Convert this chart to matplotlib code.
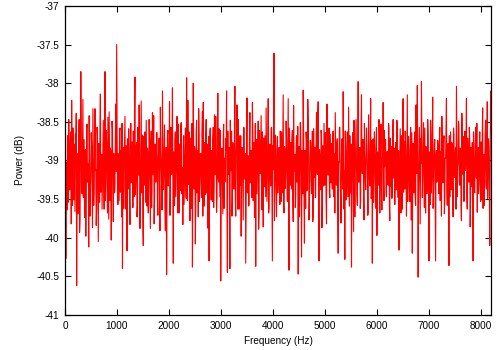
import numpy as np
import matplotlib
matplotlib.use("Agg")
import matplotlib.pyplot as plt
from matplotlib.ticker import FixedLocator, FuncFormatter

# Power spectrum (dB), in 8 bands of 1024 Hz.
# band_k: values at even bins, band_k_mid: values at the bins between them.
band_0 = [-39.43, -40.27, -39.02, -38.68, -39.54, -38.87, -39.31, -38.63, -38.22, -39.58, -39.13, -38.79, -39.66, -38.97, -40.62, -38.91,
          -39.18, -38.47, -39.77, -37.85, -39.34, -38.86, -39.48, -38.73, -39.07, -39.98, -38.59, -39.28, -39.04, -38.42, -39.72, -39.19,
          -38.82, -39.87, -38.94, -39.37, -38.33, -39.11, -39.62, -38.69, -40.05, -39.01, -38.57, -39.41, -38.92, -39.23, -38.48, -39.63,
          -37.85, -39.27, -38.78, -39.68, -39.03, -38.37, -39.52, -38.88, -39.16, -38.61, -39.79, -38.93, -39.32, -38.27, -37.5, -39.38]
band_0_mid = [-38.83, -39.17, -39.64, -39.21, -38.47, -39.38, -38.74, -39.82, -39.03, -38.58, -39.51, -39.27, -38.66, -38.39, -39.24, -39.69,
              -38.71, -39.93, -39.04, -38.62, -39.43, -38.21, -39.12, -39.74, -38.86, -39.31, -38.53, -39.06, -40.12, -38.92, -39.46, -38.64,
              -39.18, -38.33, -39.58, -38.94, -39.13, -39.84, -38.57, -39.36, -38.78, -39.54, -38.14, -39.02, -39.63, -38.73, -39.28, -38.96,
              -39.52, -38.61, -39.22, -38.44, -39.76, -39.01, -38.84, -40.03, -38.49, -39.34, -38.91, -39.42, -38.68, -39.14, -38.56, -39.57]
band_1 = [-38.91, -39.52, -38.58, -39.17, -39.73, -40.4, -38.83, -39.08, -38.43, -39.63, -38.98, -38.72, -39.37, -38.88, -39.83, -38.52,
          -39.27, -39.03, -38.62, -39.47, -37.92, -39.22, -38.77, -39.58, -39.14, -38.28, -39.88, -38.93, -39.42, -38.67, -40.1, -39.02,
          -38.63, -39.54, -39.07, -38.84, -39.68, -38.47, -39.32, -38.86, -39.61, -38.38, -39.18, -39.82, -38.79, -39.28, -38.64, -39.49,
          -38.97, -38.71, -39.91, -38.87, -39.23, -38.1, -39.38, -38.82, -39.57, -39.04, -40.48, -38.68, -39.33, -38.92, -39.71, -38.57]
band_1_mid = [-39.23, -38.63, -39.41, -38.87, -38.52, -39.11, -39.62, -38.72, -39.33, -38.81, -40.17, -39.04, -38.59, -39.48, -38.93, -39.29,
              -38.76, -39.61, -38.98, -38.34, -39.44, -38.82, -39.73, -38.57, -39.19, -38.88, -39.53, -38.23, -39.08, -39.81, -38.69, -39.32,
              -39.02, -38.48, -39.59, -38.91, -39.24, -38.74, -39.88, -38.62, -39.27, -39.01, -38.42, -39.52, -38.79, -39.13, -38.64, -39.71,
              -38.86, -39.43, -38.31, -39.03, -39.64, -38.73, -39.18, -38.54, -39.91, -38.83, -39.37, -38.61, -39.12, -38.24, -39.47, -38.97]
band_2 = [-39.18, -38.06, -40.33, -38.98, -38.73, -39.47, -38.87, -39.28, -38.53, -39.68, -39.03, -38.58, -39.43, -39.09, -38.82, -39.57,
          -38.93, -39.27, -37.93, -39.52, -38.97, -38.63, -39.78, -38.76, -39.21, -40.38, -38.0, -39.37, -38.88, -39.62, -38.48, -39.12,
          -39.73, -38.67, -39.31, -38.91, -39.48, -38.37, -38.25, -39.59, -39.02, -38.74, -39.42, -38.79, -39.88, -40.3, -38.62, -39.17,
          -38.87, -39.53, -38.57, -39.32, -38.96, -38.43, -39.67, -38.83, -39.22, -38.59, -39.47, -40.56, -38.92, -39.28, -38.72, -39.62]
band_2_mid = [-38.72, -39.34, -38.89, -39.58, -38.63, -39.19, -38.43, -39.68, -39.02, -38.79, -39.39, -38.51, -39.11, -39.83, -38.68, -39.26,
              -38.58, -39.49, -38.93, -38.22, -39.31, -39.04, -38.71, -39.62, -38.52, -39.17, -38.98, -38.82, -40.08, -38.62, -39.42, -38.87,
              -38.33, -39.53, -38.91, -39.21, -38.64, -39.72, -39.07, -38.77, -39.44, -38.47, -39.23, -39.87, -38.69, -39.12, -38.58, -39.51,
              -39.08, -38.73, -39.61, -38.41, -39.18, -38.92, -39.47, -38.13, -39.28, -39.03, -38.61, -39.37, -38.84, -39.69, -38.53, -39.14]
band_3 = [-38.97, -38.72, -38.1, -40.45, -39.18, -38.83, -40.4, -39.07, -38.62, -39.48, -38.92, -39.37, -38.04, -39.72, -38.78, -39.23,
          -38.47, -39.63, -39.01, -38.68, -39.28, -38.87, -39.77, -38.58, -39.13, -40.33, -38.81, -39.42, -38.94, -39.57, -38.38, -39.19,
          -39.03, -38.25, -39.52, -38.77, -39.32, -40.37, -38.73, -39.08, -38.49, -39.69, -38.98, -38.82, -39.41, -38.63, -39.86, -39.02,
          -38.68, -39.47, -38.91, -39.17, -38.2, -39.61, -38.79, -39.33, -38.57, -40.3, -39.12, -37.61, -39.38, -38.87, -39.73, -38.69]
band_3_mid = [-39.27, -38.86, -39.54, -38.62, -39.03, -39.41, -38.48, -39.13, -39.72, -38.77, -39.22, -38.59, -39.49, -38.92, -38.28, -39.63,
              -38.97, -38.68, -39.32, -39.98, -38.83, -39.38, -38.57, -39.24, -38.91, -39.51, -38.19, -39.04, -39.59, -38.73, -39.29, -38.87,
              -39.48, -38.63, -39.08, -39.74, -38.52, -39.02, -39.43, -38.79, -39.89, -38.61, -39.17, -38.42, -39.64, -38.98, -38.71, -39.34,
              -39.12, -38.32, -39.53, -38.84, -39.68, -38.93, -39.21, -38.58, -39.39, -38.81, -38.46, -39.78, -38.67, -39.31, -38.94, -39.42]
band_4 = [-39.28, -38.83, -39.57, -39.02, -38.63, -39.42, -38.15, -39.68, -38.88, -39.17, -38.72, -39.53, -38.2, -40.42, -38.98, -38.77,
          -39.37, -38.61, -39.79, -39.07, -38.92, -39.48, -38.68, -39.23, -40.47, -38.82, -39.27, -38.57, -40.25, -39.03, -38.09, -39.52,
          -38.87, -39.62, -38.73, -39.28, -38.47, -39.77, -39.02, -38.78, -39.43, -38.62, -39.71, -39.08, -38.83, -39.47, -38.38, -39.18,
          -38.24, -40.3, -38.93, -39.38, -38.67, -39.58, -39.03, -38.52, -39.32, -38.86, -39.82, -38.73, -39.19, -38.58, -39.48, -38.97]
band_4_mid = [-38.88, -39.27, -38.62, -39.53, -39.09, -38.71, -39.57, -38.82, -39.36, -38.49, -39.23, -38.94, -39.67, -38.58, -39.32, -38.99,
              -38.72, -39.46, -38.29, -39.14, -39.61, -38.83, -39.28, -38.56, -39.03, -39.73, -38.51, -39.19, -38.87, -39.43, -38.68, -40.07,
              -39.16, -38.63, -39.39, -38.21, -39.01, -39.54, -38.74, -39.26, -38.92, -39.79, -38.59, -39.22, -39.48, -38.78, -39.11, -38.43,
              -39.58, -38.86, -39.24, -38.61, -39.87, -38.81, -39.33, -38.97, -38.64, -39.52, -38.27, -39.08, -38.79, -39.41, -38.66, -39.29]
band_5 = [-38.78, -39.37, -38.62, -39.23, -39.68, -38.87, -39.32, -38.72, -40.2, -39.03, -38.57, -39.52, -38.93, -39.18, -38.11, -39.63,
          -40.28, -38.82, -39.27, -38.63, -39.47, -38.97, -38.68, -39.42, -40.38, -38.88, -39.22, -38.48, -39.73, -38.77, -39.08, -39.58,
          -37.98, -39.28, -38.83, -39.53, -38.15, -39.17, -38.73, -39.77, -38.92, -39.38, -38.58, -39.12, -39.67, -38.82, -39.33, -38.2,
          -39.47, -40.33, -38.72, -39.18, -38.87, -39.62, -38.57, -39.27, -39.03, -38.47, -39.68, -38.83, -39.43, -38.98, -38.25, -39.52]
band_5_mid = [-39.18, -38.69, -39.47, -38.91, -38.38, -39.31, -38.77, -39.63, -39.02, -38.57, -39.24, -39.81, -38.72, -39.37, -38.86, -39.13,
              -38.62, -39.51, -38.88, -39.22, -38.31, -39.59, -38.98, -38.79, -39.34, -38.64, -39.92, -38.91, -39.17, -38.47, -39.42, -38.83,
              -39.28, -38.93, -39.62, -38.58, -39.07, -38.73, -39.44, -38.52, -39.19, -38.99, -38.81, -39.71, -38.41, -39.23, -38.87, -39.49,
              -38.74, -39.12, -39.54, -38.63, -39.27, -38.82, -39.97, -38.89, -39.32, -38.68, -39.09, -38.53, -39.64, -38.92, -39.26, -38.61]
band_6 = [-39.08, -38.73, -39.47, -38.88, -39.32, -38.58, -39.78, -39.02, -38.82, -39.38, -38.47, -39.23, -39.57, -38.77, -39.13, -38.62,
          -39.48, -40.16, -38.92, -39.27, -38.68, -39.63, -38.2, -39.03, -39.37, -38.83, -39.72, -38.15, -39.18, -38.87, -39.53, -38.57,
          -39.12, -40.2, -38.78, -39.42, -38.63, -39.58, -38.98, -38.03, -40.51, -38.92, -39.28, -38.72, -37.98, -39.48, -38.82, -39.17,
          -38.58, -39.68, -38.93, -39.33, -38.67, -40.3, -39.02, -38.48, -39.42, -38.77, -39.62, -38.97, -38.73, -40.3, -38.87, -39.23]
band_6_mid = [-38.79, -39.42, -38.91, -39.19, -38.52, -39.58, -38.71, -39.34, -39.49, -38.63, -39.08, -38.84, -38.98, -39.38, -38.48, -39.22,
              -38.87, -39.29, -38.59, -39.68, -39.03, -38.37, -39.41, -38.76, -38.62, -39.21, -38.94, -39.53, -38.69, -39.33, -38.86, -39.77,
              -38.64, -39.27, -39.01, -38.72, -39.48, -38.28, -39.17, -38.93, -39.39, -38.57, -39.82, -39.04, -38.73, -39.24, -38.51, -39.61,
              -39.16, -38.82, -39.43, -38.47, -39.12, -38.89, -39.57, -38.67, -39.23, -38.18, -39.37, -38.78, -39.52, -38.92, -39.28, -38.74]
band_7 = [-38.82, -39.43, -38.57, -39.08, -39.72, -38.88, -39.27, -38.68, -39.52, -38.97, -38.2, -39.58, -38.78, -40.36, -39.12, -38.63,
          -39.38, -38.92, -39.73, -38.67, -39.22, -38.83, -38.04, -39.47, -39.03, -38.58, -39.32, -38.87, -39.78, -38.72, -39.18, -39.53,
          -38.62, -39.07, -38.2, -39.63, -38.93, -39.28, -38.73, -39.48, -39.02, -38.77, -40.3, -38.88, -39.42, -38.57, -39.23, -39.67,
          -38.83, -39.32, -38.63, -39.53, -38.98, -38.68, -39.62, -38.92, -39.17, -38.48, -39.37, -38.24, -39.08, -38.82, -40.1, -38.1]
band_7_mid = [-39.21, -38.73, -39.52, -38.88, -38.43, -39.29, -38.81, -39.69, -38.97, -38.62, -39.38, -38.93, -39.31, -38.68, -39.47, -39.03,
              -38.77, -39.41, -38.58, -39.18, -38.91, -39.63, -38.72, -39.09, -38.49, -39.27, -38.84, -39.57, -38.39, -39.02, -38.69, -39.32,
              -39.13, -38.79, -39.48, -38.71, -39.23, -38.57, -39.86, -38.83, -39.34, -38.98, -38.63, -39.39, -38.92, -39.17, -38.52, -39.11,
              -39.43, -38.87, -39.24, -38.76, -39.51, -38.32, -39.07, -39.58, -38.68, -39.28, -38.94, -39.49, -38.72, -39.36, -39.01, -38.64]

freq_max = 8192
x_ticks = [0, 1000, 2000, 3000, 4000, 5000, 6000, 7000, 8000]
y_ticks = [-41, -40.5, -40, -39.5, -39, -38.5, -38, -37.5, -37]
x_label = "Frequency (Hz)"
y_label = "Power (dB)"

bands = [(band_0, band_0_mid), (band_1, band_1_mid), (band_2, band_2_mid), (band_3, band_3_mid),
         (band_4, band_4_mid), (band_5, band_5_mid), (band_6, band_6_mid), (band_7, band_7_mid)]
power_db = np.concatenate([np.column_stack([a, b]).ravel() for a, b in bands])
freq = np.linspace(0, freq_max, len(power_db))

plt.rcParams['font.family'] = ['Liberation Sans', 'DejaVu Sans']
plt.rcParams['axes.unicode_minus'] = False

fig = plt.figure(figsize=(5, 3.5), dpi=100)
ax = fig.add_axes([0.13, 0.1, 0.852, 0.883])
ax.plot(freq, power_db, color='#ff0000', lw=0.8, antialiased=True)

ax.set_xlim(0, freq_max)
ax.set_ylim(-41, -37)
ax.xaxis.set_major_locator(FixedLocator(x_ticks))
ax.yaxis.set_major_locator(FixedLocator(y_ticks))
ax.yaxis.set_major_formatter(FuncFormatter(lambda v, p: ('%g' % v)))
ax.xaxis.set_major_formatter(FuncFormatter(lambda v, p: ('%g' % v)))
ax.tick_params(direction='in', length=4, width=0.8, top=True, right=True,
               labelsize=7.2, colors='black', pad=4)
for s in ax.spines.values():
    s.set_linewidth(0.9)
    s.set_color('black')
ax.set_xlabel(x_label, fontsize=7.2, labelpad=4)
ax.set_ylabel(y_label, fontsize=7.2, labelpad=8)

fig.savefig('out.png', dpi=100)
